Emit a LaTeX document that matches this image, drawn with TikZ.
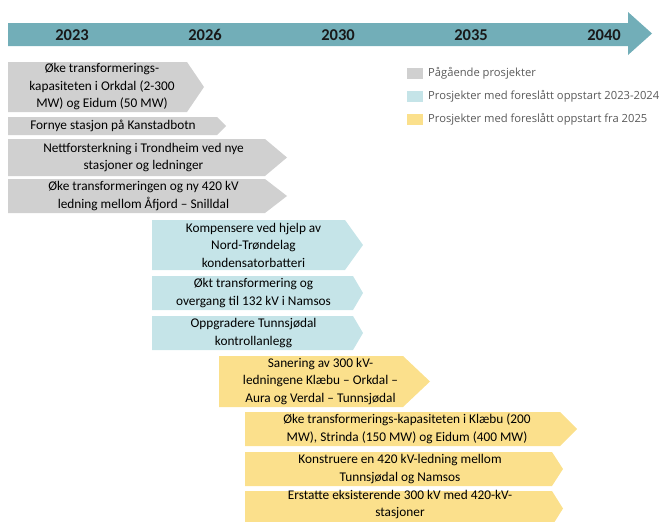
\documentclass[tikz,border=0pt]{standalone}
\usepackage{fontspec}
\setmainfont{Carlito}
\newfontfamily\legfont{Open Sans}
\definecolor{tlteal}{RGB}{114,174,184}
\definecolor{cgray}{RGB}{208,208,208}
\definecolor{cblue}{RGB}{197,228,232}
\definecolor{cyellow}{RGB}{251,224,140}
\definecolor{legtext}{RGB}{89,89,89}
\tikzset{
  boxtext/.style={align=center,font=\fontsize{13.3}{17.5}\selectfont,text=black,inner sep=0pt},
  yeartext/.style={font=\fontsize{16.5}{18}\selectfont\bfseries,text=black!90,inner sep=0pt},
  legtextstyle/.style={font=\legfont\fontsize{11.2}{13}\selectfont,text=legtext,anchor=west,inner sep=0pt},
}
% \chev{name}{left}{top}{shoulder}{tip}{bottom}{colour}{text}
\newcommand\chev[8]{%
  \fill[#7] (#2,#3) -- (#4,#3) -- (#5,{(#3+#6)/2}) -- (#4,#6) -- (#2,#6) -- cycle;
  \node[boxtext] (#1) at ({(#2+#5)/2-4},{(#3+#6)/2}) {#8};
}
\begin{document}
\begin{tikzpicture}[x=1pt,y=-1pt]
\useasboundingbox (0,0) rectangle (667,522);
% timeline
\fill[tlteal] (8,23) -- (628,23) -- (628,12) -- (652,33.5) -- (628,55) -- (628,46) -- (8,46) -- cycle;
\node[yeartext] (y2023) at (72,35) {2023};
\node[yeartext] (y2026) at (205,35) {2026};
\node[yeartext] (y2030) at (338,35) {2030};
\node[yeartext] (y2035) at (471,35) {2035};
\node[yeartext] (y2040) at (604,35) {2040};
% grey
\chev{g1}{8}{62}{187}{204}{112}{cgray}{Øke transformerings-\\kapasiteten i Orkdal (2-300\\MW) og Eidum (50 MW)}
\chev{g2}{8}{117}{217}{226}{135}{cgray}{Fornye stasjon på Kanstadbotn}
\chev{g3}{8}{139}{265}{287}{176}{cgray}{Nettforsterkning i Trondheim ved nye\\stasjoner og ledninger}
\chev{g4}{8}{179}{265}{287}{213}{cgray}{Øke transformeringen og ny 420 kV\\ledning mellom Åfjord – Snilldal}
% blue
\chev{b1}{152}{220}{345}{363}{270}{cblue}{Kompensere ved hjelp av\\Nord-Trøndelag\\kondensatorbatteri}
\chev{b2}{152}{276}{353}{363}{310}{cblue}{Økt transformering og\\overgang til 132 kV i Namsos}
\chev{b3}{152}{316}{353}{363}{350}{cblue}{Oppgradere Tunnsjødal\\kontrollanlegg}
% yellow
\chev{o1}{219}{356}{403}{430}{407}{cyellow}{Sanering av 300 kV-\\ledningene Klæbu – Orkdal –\\Aura og Verdal – Tunnsjødal}
\chev{o2}{245}{412}{560}{577}{446}{cyellow}{Øke transformerings-kapasiteten i Klæbu (200\\MW), Strinda (150 MW) og Eidum (400 MW)}
\chev{o3}{245}{452}{552}{563}{486}{cyellow}{Konstruere en 420 kV-ledning mellom\\Tunnsjødal og Namsos}
\fill[cyellow] (245,491) -- (552,491) -- (563,508.5) -- (552,526) -- (245,526) -- cycle;
\node[boxtext] (o4) at (400,504.5) {Erstatte eksisterende 300 kV med 420-kV-\\stasjoner};
% legend
\fill[cgray] (407,68) rectangle (423,79);
\node[legtextstyle] (l1) at (428,73.5) {Pågående prosjekter};
\fill[cblue] (407,91) rectangle (423,102);
\node[legtextstyle] (l2) at (428,96.5) {Prosjekter med foreslått oppstart 2023-2024};
\fill[cyellow] (407,114) rectangle (423,125);
\node[legtextstyle] (l3) at (428,119.5) {Prosjekter med foreslått oppstart fra 2025};
\end{tikzpicture}
\end{document}
